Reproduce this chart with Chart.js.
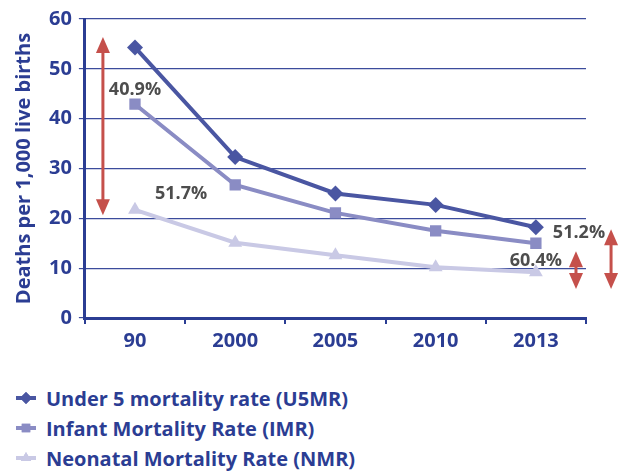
<!DOCTYPE html>
<html>
<head>
<meta charset="utf-8">
<script src="https://cdn.jsdelivr.net/npm/chart.js@4.4.1/dist/chart.umd.min.js"></script>
<style>
  body { margin: 0; background: #fff; font-family: "Open Sans", sans-serif; }
  #wrap { position: relative; width: 621px; height: 471px; }
  #chart-box { position: absolute; left: 0; top: 0; width: 621px; height: 362px; }
  #legend { position: absolute; left: 16px; top: 383px; }
  .row { display: flex; align-items: center; height: 30px; font-weight: 700; font-size: 20px; color: #2b3d93; }
  .mark { position: relative; width: 20px; height: 14px; margin-right: 10px; }
  .mark .ln { position: absolute; left: 0; top: 5px; width: 20px; height: 4px; }
  .mark canvas { position: absolute; left: 2px; top: -1px; }
</style>
</head>
<body>
<div id="wrap">
  <div id="chart-box"><canvas id="mortalityChart"></canvas></div>
  <div id="legend"></div>
</div>
<script>
const years = ["90", "2000", "2005", "2010", "2013"];
const u5mr = [54.3, 32.3, 25.0, 22.7, 18.2];
const imr = [42.9, 26.7, 21.1, 17.5, 15.0];
const nmr = [21.7, 15.1, 12.6, 10.2, 9.2];
const seriesNames = ["Under 5 mortality rate (U5MR)", "Infant Mortality Rate (IMR)", "Neonatal Mortality Rate (NMR)"];
const seriesColors = ["#4a56a2", "#8a8cc4", "#c9c9e5"];
const seriesShapes = ["rectRot", "rect", "triangle"];

// reduction arrows (x as category index, y in rate units)
const arrows = [
  { x: -0.32, from: 56.4, to: 20.6 },
  { x: 4.4, from: 13.4, to: 5.8 },
  { x: 4.75, from: 17.8, to: 5.8 }
];
const notes = [
  { text: "40.9%", x: 0, y: 45.7 },
  { text: "51.7%", x: 0.46, y: 25.0 },
  { text: "51.2%", x: 4.43, y: 17.0 },
  { text: "60.4%", x: 4.0, y: 11.4 }
];

const FONT = '"Open Sans", sans-serif';
const AXIS = "#2b3d93";

const annotate = {
  id: "annotate",
  afterDatasetsDraw(chart) {
    const { ctx, scales: { x, y } } = chart;
    ctx.save();
    ctx.strokeStyle = "#c5504b";
    ctx.fillStyle = "#c5504b";
    ctx.lineWidth = 3;
    arrows.forEach(a => {
      const px = x.getPixelForValue(a.x);
      const top = y.getPixelForValue(a.from);
      const bot = y.getPixelForValue(a.to);
      ctx.beginPath();
      ctx.moveTo(px, top + 10);
      ctx.lineTo(px, bot - 10);
      ctx.stroke();
      ctx.beginPath();
      ctx.moveTo(px, top);
      ctx.lineTo(px - 7, top + 16);
      ctx.lineTo(px + 7, top + 16);
      ctx.closePath();
      ctx.fill();
      ctx.beginPath();
      ctx.moveTo(px, bot);
      ctx.lineTo(px - 7, bot - 16);
      ctx.lineTo(px + 7, bot - 16);
      ctx.closePath();
      ctx.fill();
    });
    ctx.fillStyle = "#4d4d4d";
    ctx.font = "700 18px " + FONT;
    ctx.textAlign = "center";
    ctx.textBaseline = "middle";
    notes.forEach(n => {
      ctx.fillText(n.text, x.getPixelForValue(n.x), y.getPixelForValue(n.y));
    });
    ctx.restore();
  }
};

const datasets = [u5mr, imr, nmr].map((vals, i) => ({
  label: seriesNames[i],
  data: vals,
  borderColor: seriesColors[i],
  backgroundColor: seriesColors[i],
  borderWidth: 4,
  pointStyle: seriesShapes[i],
  pointRadius: 8,
  pointBorderWidth: 0,
  tension: 0
}));

new Chart(document.getElementById("mortalityChart"), {
  type: "line",
  data: { labels: years, datasets: datasets.slice().reverse() },
  options: {
    responsive: true,
    maintainAspectRatio: false,
    animation: false,
    layout: { padding: { top: 4, right: 35, left: 12, bottom: 4 } },
    plugins: { legend: { display: false }, tooltip: { enabled: false } },
    scales: {
      x: {
        offset: true,
        grid: { offset: true, drawOnChartArea: false, drawTicks: true, tickLength: 6, color: AXIS, lineWidth: 2 },
        border: { color: AXIS, width: 3 },
        ticks: { color: AXIS, font: { family: FONT, size: 20, weight: "700" }, padding: 5 }
      },
      y: {
        min: 0,
        max: 60,
        ticks: { stepSize: 10, color: AXIS, font: { family: FONT, size: 20, weight: "700" }, padding: 7 },
        grid: { color: "#3c4c9c", lineWidth: 1.2, tickLength: 6 },
        border: { color: AXIS, width: 3 },
        title: {
          display: true,
          text: "Deaths per 1,000 live births",
          color: AXIS,
          font: { family: FONT, size: 20, weight: "700" },
          padding: { top: 0, bottom: 6 }
        }
      }
    }
  },
  plugins: [annotate]
});

// legend rows
const legend = document.getElementById("legend");
seriesNames.forEach((name, i) => {
  const row = document.createElement("div");
  row.className = "row";
  const mark = document.createElement("div");
  mark.className = "mark";
  const ln = document.createElement("div");
  ln.className = "ln";
  ln.style.background = seriesColors[i];
  mark.appendChild(ln);
  const c = document.createElement("canvas");
  c.width = 16; c.height = 16;
  const cx = c.getContext("2d");
  cx.fillStyle = seriesColors[i];
  Chart.helpers.drawPoint(cx, { pointStyle: seriesShapes[i], radius: 6, borderWidth: 0 }, 8, 8);
  cx.fill();
  mark.appendChild(c);
  row.appendChild(mark);
  const t = document.createElement("span");
  t.textContent = name;
  row.appendChild(t);
  legend.appendChild(row);
});
</script>
</body>
</html>
